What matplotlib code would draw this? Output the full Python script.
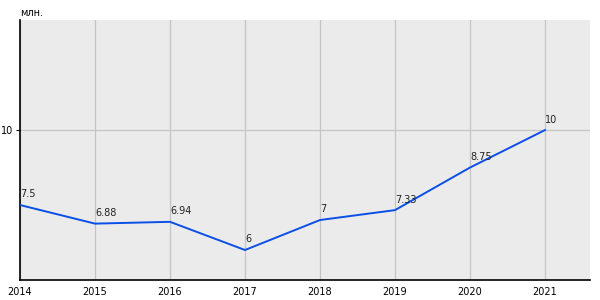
import matplotlib.pyplot as plt
import numpy as np

years = [2014, 2015, 2016, 2017, 2018, 2019, 2020, 2021]
values = [7.5, 6.88, 6.94, 6, 7, 7.33, 8.75, 10]
labels = ["7.5", "6.88", "6.94", "6", "7", "7.33", "8.75", "10"]
y_ticks = [10]

fig = plt.figure(figsize=(6, 3), dpi=100)
ax = fig.add_axes([20 / 600, 20 / 300, 570 / 600, 260 / 300])
ax.set_facecolor("#ebebeb")

ax.plot(years, values, color="#0a4fe6", linewidth=1.4, zorder=3)
for x, y, t in zip(years, values, labels):
    ax.annotate(t, (x, y), xytext=(0, 4), textcoords="offset points",
                ha="left", va="bottom", fontsize=7, color="#222222")

ax.set_xlim(2014, 2021.6)
ax.set_ylim(5, 13.67)
ax.set_xticks(years)
ax.set_xticklabels([str(y) for y in years])
ax.set_yticks(y_ticks)
ax.set_yticklabels([str(v) for v in y_ticks])
ax.grid(True, color="#c4c4c4", linewidth=0.9)
ax.set_axisbelow(True)

for s in ["top", "right"]:
    ax.spines[s].set_visible(False)
for s in ["left", "bottom"]:
    ax.spines[s].set_color("black")
    ax.spines[s].set_linewidth(1.2)

ax.tick_params(axis="x", length=0, labelsize=7, pad=5)
ax.tick_params(axis="y", length=3, labelsize=7, pad=2)

fig.text(20 / 600, 1 - 13 / 300, "млн.", fontsize=7, ha="left", va="center")

plt.savefig("out.png", dpi=100)
